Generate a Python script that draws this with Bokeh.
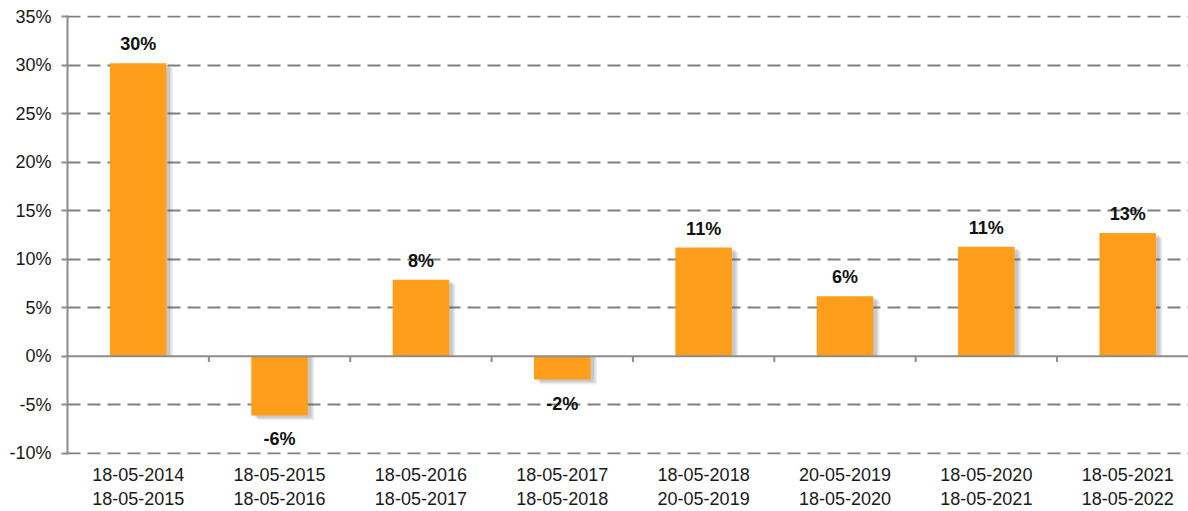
from bokeh.plotting import figure
from bokeh.models import Range1d, FixedTicker, Span, ColumnDataSource
from bokeh.transform import dodge
from bokeh.core.properties import value
from bokeh.embed import file_html
from bokeh.resources import INLINE

periods = ["18-05-2014\n18-05-2015", "18-05-2015\n18-05-2016", "18-05-2016\n18-05-2017",
           "18-05-2017\n18-05-2018", "18-05-2018\n20-05-2019", "20-05-2019\n18-05-2020",
           "18-05-2020\n18-05-2021", "18-05-2021\n18-05-2022"]
returns = [30.2, -6.1, 7.9, -2.4, 11.2, 6.2, 11.3, 12.7]
y_ticks = [-10, -5, 0, 5, 10, 15, 20, 25, 30, 35]

FONT = "Liberation Sans"
ORANGE = "#FF9E1B"
GRID = "#808080"

xs = [i + 0.5 for i in range(len(periods))]
labels = [f"{round(v)}%" for v in returns]
pos = [v >= 0 for v in returns]
src = ColumnDataSource(dict(x=xs, top=returns, label=labels,
                            base=["bottom" if p else "top" for p in pos],
                            yoff=[-9 if p else 14 for p in pos]))

p = figure(width=1188, height=511, output_backend="svg", toolbar_location=None,
           x_range=Range1d(0, 7.93), y_range=Range1d(-10.12, 35.12),
           min_border_left=67, min_border_right=0, min_border_top=15, min_border_bottom=54)
p.outline_line_color = None
p.background_fill_color = "white"
p.border_fill_color = "white"

# grid
p.xgrid.grid_line_color = None
p.ygrid.grid_line_color = GRID
p.ygrid.grid_line_width = 2
p.ygrid.grid_line_dash = "13 7"
p.ygrid.ticker = FixedTicker(ticks=[t for t in y_ticks if t != 0])

# y axis
p.yaxis.ticker = FixedTicker(ticks=y_ticks)
p.yaxis.major_label_overrides = {t: f"{t}%" for t in y_ticks}
p.yaxis.axis_line_color = "#8c8c8c"
p.yaxis.axis_line_width = 2
p.yaxis.major_tick_line_color = "#8c8c8c"
p.yaxis.major_tick_line_width = 2
p.yaxis.major_tick_out = 6
p.yaxis.major_tick_in = 0
p.yaxis.minor_tick_line_color = None
p.yaxis.major_label_text_font = FONT
p.yaxis.major_label_text_font_size = "18px"
p.yaxis.major_label_text_color = "#1a1a1a"
p.yaxis.major_label_standoff = 10

# x axis (labels at bottom)
p.xaxis.ticker = FixedTicker(ticks=xs)
p.xaxis.major_label_overrides = {x: lab for x, lab in zip(xs, periods)}
p.xaxis.axis_line_color = None
p.xaxis.major_tick_line_color = None
p.xaxis.minor_tick_line_color = None
p.xaxis.major_label_text_font = FONT
p.xaxis.major_label_text_font_size = "18px"
p.xaxis.major_label_text_color = "#1a1a1a"
p.xaxis.major_label_standoff = 4

# bar shadows
for dx, dy, a in [(0.045, -0.5, 0.10), (0.035, -0.35, 0.12), (0.025, -0.2, 0.15)]:
    p.vbar(x=dodge("x", dx), top=dodge("top", dy), bottom=0, width=0.40, source=src,
           fill_color="#555555", fill_alpha=a, line_color=None)

# bars
p.vbar(x="x", top="top", bottom=0, width=0.40, source=src,
       fill_color=ORANGE, line_color=None)

# zero line
p.add_layout(Span(location=0, dimension="width", line_color="#8c8c8c", line_width=2))
# category boundary ticks on zero line
bounds = list(range(1, len(periods) + 1))
p.segment(x0=bounds, x1=bounds, y0=[0] * len(bounds), y1=[-0.6] * len(bounds),
          line_color="#8c8c8c", line_width=2)

# value labels
p.text(x="x", y="top", text="label", source=src, text_align="center",
       text_baseline="base", y_offset="yoff", text_font=value(FONT),
       text_font_size="18px", text_font_style="bold", text_color="#111111")

open("out.html", "w").write(file_html(p, INLINE))
